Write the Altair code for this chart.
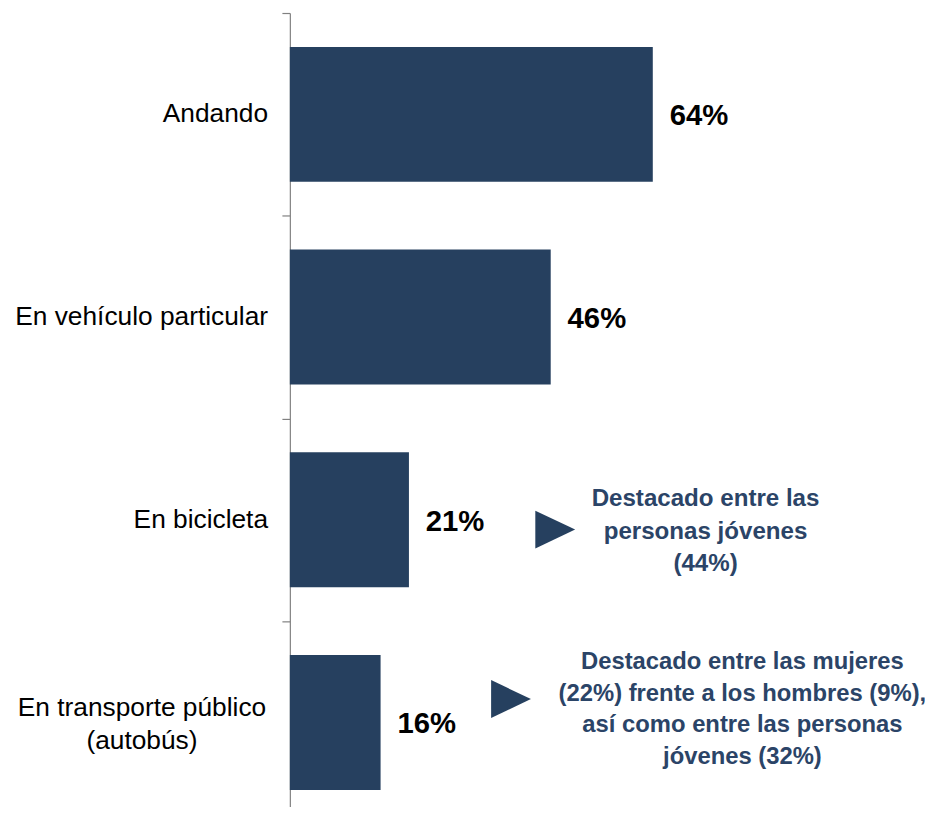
import altair as alt
import pandas as pd

categories = ["Andando", "En vehículo particular", "En bicicleta", "En transporte público\n(autobús)"]
values = [64, 46, 21, 16]
value_labels = ["64%", "46%", "21%", "16%"]

annot_categories = ["En bicicleta", "En transporte público\n(autobús)"]
annot_arrow_x = [46.8, 39.0]
annot_text_x = [73.3, 79.8]
annot_texts = [
    "Destacado entre las\npersonas jóvenes\n(44%)",
    "Destacado entre las mujeres\n(22%) frente a los hombres (9%),\nasí como entre las personas\njóvenes (32%)",
]

BAR = "#26405f"
ANN = "#2b4467"
FONT = "Liberation Sans"

df = pd.DataFrame({
    "cat": categories,
    "val": values,
    "lab": value_labels,
    "wrapped": ["\n" in c for c in categories],
})
ann = pd.DataFrame({
    "cat": annot_categories,
    "ax": annot_arrow_x,
    "tx": annot_text_x,
    "txt": annot_texts,
})

yscale = alt.Scale(domain=categories, paddingInner=0, paddingOuter=0, range=[0, 817])
xscale = alt.Scale(domain=[0, 112], nice=False)

def Y():
    return alt.Y("cat:N", scale=yscale, sort=None,
                 axis=alt.Axis(title=None, labels=False, tickBand="extent", tickSize=8,
                               tickColor="#808080", domainColor="#808080", domainWidth=1.2,
                               tickWidth=1.2, grid=False))

def X(field):
    return alt.X(field, scale=xscale, axis=None)

base = alt.Chart(df)

bars = base.mark_bar(size=136, color=BAR).encode(y=Y(), x=X("val:Q"))

vals = base.mark_text(align="left", baseline="middle", dx=17, dy=2, font=FONT,
                      fontSize=29.5, fontWeight="bold", color="#000000").encode(
    y=Y(), x=X("val:Q"), text="lab:N",
)

labels_single = base.transform_filter("!datum.wrapped").mark_text(
    align="right", baseline="middle", font=FONT, fontSize=26.5, color="#000000"
).encode(y=Y(), x=alt.value(-22), text="cat:N")

labels_wrapped = base.transform_filter("datum.wrapped").mark_text(
    align="center", baseline="middle", font=FONT, fontSize=26.5, color="#000000",
    lineBreak="\n", lineHeight=34, dy=-15
).encode(y=Y(), x=alt.value(-149), text="cat:N")

abase = alt.Chart(ann)

arrows1 = abase.transform_filter(alt.datum.cat == annot_categories[0]).mark_point(
    shape="M-1,-0.95L1,0L-1,0.95Z", filled=True, size=1610, color=BAR, opacity=1,
    strokeWidth=0
).encode(y=Y(), x=X("ax:Q"), yOffset=alt.value(112))

arrows2 = abase.transform_filter(alt.datum.cat == annot_categories[1]).mark_point(
    shape="M-1,-0.95L1,0L-1,0.95Z", filled=True, size=1610, color=BAR, opacity=1,
    strokeWidth=0
).encode(y=Y(), x=X("ax:Q"), yOffset=alt.value(78.5))

ann1 = abase.transform_filter(alt.datum.cat == annot_categories[0]).mark_text(
    align="center", baseline="middle", font=FONT, fontSize=24.3, fontWeight="bold",
    color=ANN, lineBreak="\n", lineHeight=32.5, dy=-20.5
).encode(y=Y(), x=X("tx:Q"), text="txt:N")

ann2 = abase.transform_filter(alt.datum.cat == annot_categories[1]).mark_text(
    align="center", baseline="middle", font=FONT, fontSize=24, fontWeight="bold",
    color=ANN, lineBreak="\n", lineHeight=31.7, dy=-60.5
).encode(y=Y(), x=X("tx:Q"), text="txt:N")

chart = alt.layer(bars, vals, labels_single, labels_wrapped, arrows1, arrows2, ann1, ann2).properties(
    width=640, height=797,
    background="white",
    autosize=alt.AutoSizeParams(type="none"),
    padding={"left": 284, "top": 2, "right": 0, "bottom": 0},
).configure_view(stroke=None, strokeWidth=0)

chart.save("out.html", embed_options={"renderer": "svg", "actions": False})
